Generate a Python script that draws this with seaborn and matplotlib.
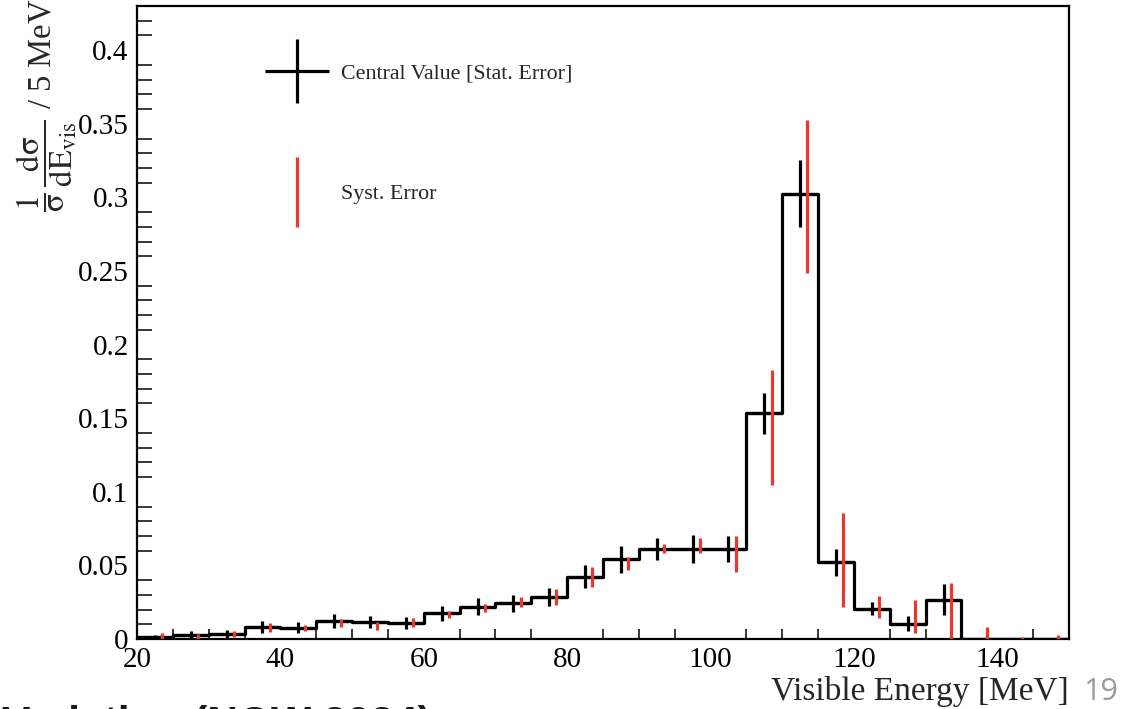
import numpy as np
import pandas as pd
import matplotlib
matplotlib.use("Agg")
import matplotlib.pyplot as plt
import seaborn as sns
from matplotlib.lines import Line2D
from matplotlib.ticker import MultipleLocator

# Binning of the visible-energy spectrum (5 MeV bins)
bin_edges = list(range(20, 155, 5))

# Normalised differential cross section per bin
central_value = [0.0016, 0.0030, 0.0036, 0.0080, 0.0078, 0.0120, 0.0115, 0.0107,
                 0.0175, 0.0220, 0.0242, 0.0287, 0.0423, 0.0541, 0.0611, 0.0611,
                 0.0611, 0.1532, 0.3026, 0.0521, 0.0206, 0.0104, 0.0266, 0.0,
                 0.0, 0.0]

# Statistical uncertainty (symmetric)
stat_error = [0.0012, 0.0023, 0.0028, 0.0040, 0.0040, 0.0048, 0.0043, 0.0040,
              0.0050, 0.0060, 0.0057, 0.0060, 0.0077, 0.0090, 0.0072, 0.0093,
              0.0091, 0.0136, 0.0229, 0.0091, 0.0043, 0.0051, 0.0105, 0.0,
              0.0, 0.0]

# Systematic band: lower and upper ends
syst_low = [0.0, 0.0, 0.0012, 0.0050, 0.0056, 0.0084, 0.0061, 0.0084,
            0.0141, 0.0181, 0.0215, 0.0229, 0.0355, 0.0469, 0.0582, 0.0582,
            0.0457, 0.1043, 0.2485, 0.0218, 0.0141, 0.0044, 0.0, 0.0,
            0.0, 0.0]
syst_high = [0.0043, 0.0034, 0.0056, 0.0111, 0.0095, 0.0136, 0.0113, 0.0141,
             0.0192, 0.0238, 0.0283, 0.0338, 0.0491, 0.0559, 0.0645, 0.0684,
             0.0700, 0.1826, 0.3528, 0.0854, 0.0291, 0.0262, 0.0383, 0.0084,
             0.0014, 0.0027]

x_ticks = [20, 40, 60, 80, 100, 120, 140]
x_tick_labels = ["20", "40", "60", "80", "100", "120", "140"]
y_ticks = [0, 0.05, 0.1, 0.15, 0.2, 0.25, 0.3, 0.35, 0.4]
y_tick_labels = ["0", "0.05", "0.1", "0.15", "0.2", "0.25", "0.3", "0.35", "0.4"]

SYST_RED = "#e8392e"

sns.set_theme(style="white")
plt.rcParams["font.family"] = ["Liberation Serif", "DejaVu Serif"]
plt.rcParams["mathtext.fontset"] = "stix"

fig = plt.figure(figsize=(11.38, 7.09), dpi=100)
ax = fig.add_axes([0.1204, 0.0987, 0.8190, 0.8928])

edges = np.array(bin_edges, dtype=float)
centers = 0.5 * (edges[:-1] + edges[1:])
bin_width = float(edges[1] - edges[0])
half_width = 0.5 * bin_width
spectrum = pd.DataFrame({"energy": centers, "xsec": central_value})

# Step histogram of the central values
sns.histplot(data=spectrum, x="energy", weights="xsec",
             binwidth=bin_width, binrange=(bin_edges[0], bin_edges[-1]),
             element="step", fill=False, color="black", linewidth=2.3, ax=ax)

# Statistical error crosses
ax.errorbar(centers, central_value, xerr=half_width, yerr=stat_error,
            fmt="none", ecolor="black", elinewidth=2.3, capsize=0, zorder=4)

# Systematic error bars, slightly offset to the right of the bin centre
ax.vlines(centers + 1.0, syst_low, syst_high, colors=SYST_RED,
          linewidth=2.3, zorder=5)

ax.set_xlim(20, 150)
ax.set_ylim(0, 0.43)
ax.set_xticks(x_ticks)
ax.set_xticklabels(x_tick_labels)
ax.set_yticks(y_ticks)
ax.set_yticklabels(y_tick_labels)
ax.xaxis.set_minor_locator(MultipleLocator(5))
ax.yaxis.set_minor_locator(MultipleLocator(0.01))

ax.tick_params(axis="x", which="major", direction="in", length=14, width=1.3,
               labelsize=21, pad=6, colors="black")
ax.tick_params(axis="x", which="minor", direction="in", length=7, width=1.3,
               bottom=True)
ax.tick_params(axis="y", which="major", direction="in", length=20, width=1.3,
               labelsize=21, pad=6, colors="black")
ax.tick_params(axis="y", which="minor", direction="in", length=11, width=1.3,
               left=True)
ax.tick_params(top=False, right=False)

for spine in ax.spines.values():
    spine.set_visible(True)
    spine.set_color("black")
    spine.set_linewidth(1.6)

ax.set_xlabel("Visible Energy [MeV]", fontsize=24, loc="right", labelpad=2)
ax.set_ylabel(r"$\dfrac{1}{\mathrm{\sigma}}\,\dfrac{\mathrm{d\sigma}}{\mathrm{dE_{vis}}}$ / 5 MeV",
              fontsize=23.5, loc="top")
ax.yaxis.set_label_coords(-0.062, 1.012)

legend_handles = [
    Line2D([], [], color="black", marker="+", markersize=46,
           markeredgewidth=2.3, linestyle="None"),
    Line2D([], [], color=SYST_RED, marker="|", markersize=50,
           markeredgewidth=2.3, linestyle="None"),
]
ax.legend(legend_handles, ["Central Value [Stat. Error]", "Syst. Error"],
          loc="upper left", bbox_to_anchor=(0.1345, 0.909), frameon=False,
          fontsize=15.8, handlelength=3.2, handletextpad=0.4,
          labelspacing=4.55, borderpad=0, borderaxespad=0)

# Slide page number and heading
fig.text(1101 / 1138, 17 / 709, "19", fontsize=22, color="#9a9a9a",
         family=["Open Sans", "DejaVu Sans"], ha="center", va="center")
fig.text(432 / 1138, -0.0385, "Variation (NOW 2024)", fontsize=30.6,
         fontweight="bold", color="#1a1a1a",
         family=["Liberation Sans", "DejaVu Sans"], ha="right", va="baseline")

fig.savefig("out.png", dpi=100)
